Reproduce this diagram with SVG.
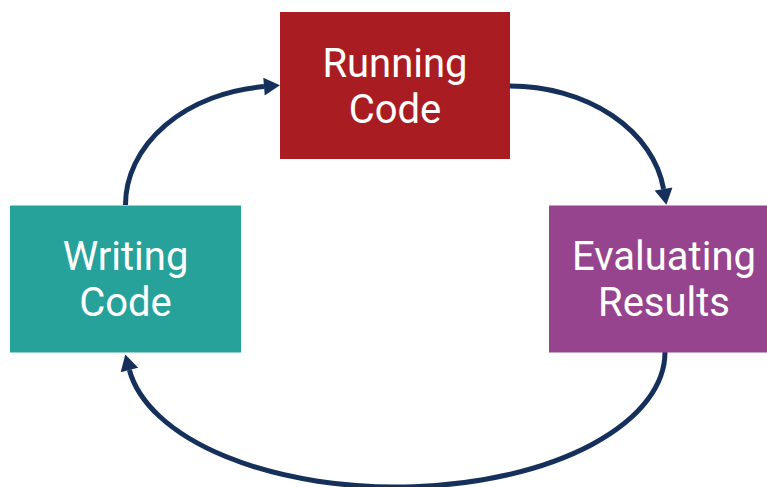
<svg xmlns="http://www.w3.org/2000/svg" width="767" height="487" viewBox="0 0 767 487">
  <style>
    .label { font-family: Roboto, "Liberation Sans", sans-serif; font-size: 40px; fill: #ffffff; text-anchor: middle; }
    .link { fill: none; stroke: #15315b; stroke-width: 5; }
  </style>
  <defs>
    <marker id="head" markerUnits="userSpaceOnUse" markerWidth="18" markerHeight="18" viewBox="0 0 16 18" refX="0" refY="9" orient="auto">
      <path d="M0,0 L16,9 L0,18 Z" fill="#15315b"/>
    </marker>
  </defs>

  <rect width="767" height="487" fill="#ffffff"/>

  <!-- cycle connectors -->
  <g id="connectors">
    <path class="link" d="M125.5,205 A154.5,119 0 0 1 264,86.6" marker-end="url(#head)"/>
    <path class="link" d="M510,86 A155,119 0 0 1 663.6,189" marker-end="url(#head)"/>
    <path class="link" d="M665,352 A269,135 0 0 1 129.4,370" marker-end="url(#head)"/>
  </g>

  <g id="running-code">
    <rect x="280" y="12" width="230" height="147" fill="#a91d22"/>
    <text class="label" x="395" y="76.5">Running</text>
    <text class="label" x="395" y="122.5">Code</text>
  </g>

  <g id="writing-code">
    <rect x="10" y="205.5" width="231" height="147" fill="#26a29a"/>
    <text class="label" x="125.5" y="269.5">Writing</text>
    <text class="label" x="125.5" y="315.5">Code</text>
  </g>

  <g id="evaluating-results">
    <rect x="549" y="205.5" width="230" height="147" fill="#96448e"/>
    <text class="label" x="664" y="269.5">Evaluating</text>
    <text class="label" x="664" y="315.5">Results</text>
  </g>
</svg>
